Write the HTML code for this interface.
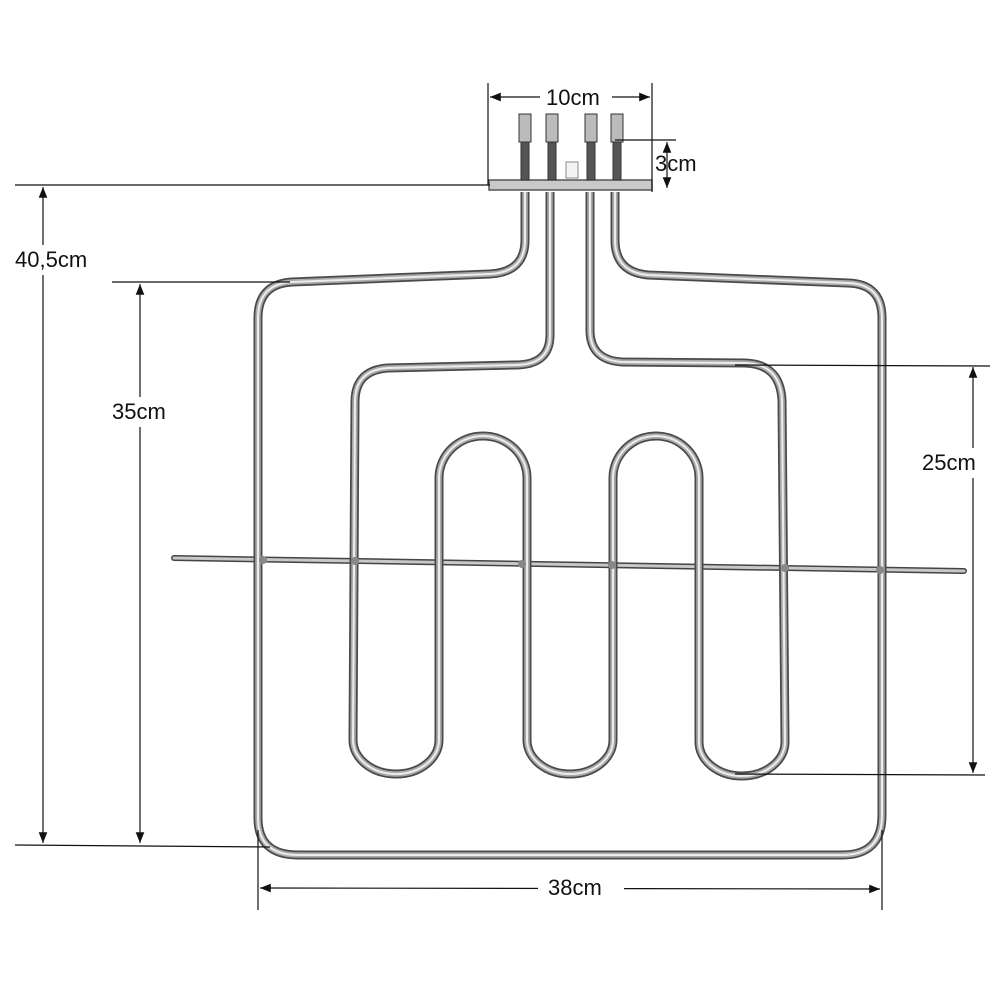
<!DOCTYPE html>
<html><head><meta charset="utf-8"><style>
html,body{margin:0;padding:0;background:#fff}
svg{display:block}
text{font-family:"Liberation Sans",sans-serif;font-size:22px;fill:#111}
</style></head><body>
<svg width="1000" height="1000" viewBox="0 0 1000 1000" xmlns="http://www.w3.org/2000/svg">
<defs>
<marker id="a" viewBox="0 0 10 10" refX="10" refY="5" markerWidth="9" markerHeight="9" orient="auto-start-reverse"><path d="M0,1 L10,5 L0,9 z" fill="#111"/></marker>
</defs>
<rect width="1000" height="1000" fill="#fff"/>
<g stroke-linecap="round" fill="none">
<path d="M174,558 L964,571" stroke="#444" stroke-width="6"/>
<path d="M174,558 L964,571" stroke="#c8c8c8" stroke-width="3"/>
</g>
<g id="tubes" fill="none" stroke-linejoin="round">
<path id="outer" d="M525,192 L525,240 Q525,272 490,274 L292,282 Q258,284 258,318 L258,818 Q258,855 298,855 L842,855 Q882,855 882,815 L882,318 Q882,284 848,283 L648,275 Q615,272 615,240 L615,192"/>
<path id="inner" d="M550,192 L550,335 Q550,365 515,365 L388,368 Q355,370 355,402 L353,740 A43,34 0 0 0 439,740 L439,478 A44,42 0 0 1 527,478 L527,740 A43,34 0 0 0 613,740 L613,478 A43,42 0 0 1 699,478 L699,742 A43,34 0 0 0 785,742 L782,400 Q780,364 745,363 L622,362 Q590,360 590,330 L590,192"/>
</g>
<use href="#outer" stroke="#4a4a4a" stroke-width="9" fill="none"/>
<use href="#outer" stroke="#a9a9a9" stroke-width="5.5" fill="none"/>
<use href="#outer" stroke="#ececec" stroke-width="2" fill="none"/>
<use href="#inner" stroke="#4a4a4a" stroke-width="9" fill="none"/>
<use href="#inner" stroke="#a9a9a9" stroke-width="5.5" fill="none"/>
<use href="#inner" stroke="#ececec" stroke-width="2" fill="none"/>
<g fill="#888"><circle cx="263" cy="560" r="4"/><circle cx="355" cy="561" r="4"/><circle cx="522" cy="564" r="4"/><circle cx="612" cy="565" r="4"/><circle cx="785" cy="568" r="4"/><circle cx="880" cy="570" r="4"/></g>
<rect x="489" y="180" width="163" height="10" fill="#c9c9c9" stroke="#555" stroke-width="1.5"/>
<rect x="566" y="162" width="12" height="16" fill="#f4f4f4" stroke="#888"/>
<g stroke="#333" stroke-width="1">
<g transform="translate(525,0)"><rect x="-4" y="140" width="8" height="40" fill="#555"/><rect x="-6" y="114" width="12" height="28" fill="#bbb"/></g>
<g transform="translate(552,0)"><rect x="-4" y="140" width="8" height="40" fill="#555"/><rect x="-6" y="114" width="12" height="28" fill="#bbb"/></g>
<g transform="translate(591,0)"><rect x="-4" y="140" width="8" height="40" fill="#555"/><rect x="-6" y="114" width="12" height="28" fill="#bbb"/></g>
<g transform="translate(617,0)"><rect x="-4" y="140" width="8" height="40" fill="#555"/><rect x="-6" y="114" width="12" height="28" fill="#bbb"/></g>
</g>
<g stroke="#111" stroke-width="1.2" fill="none">
<line x1="488" y1="83" x2="488" y2="185"/>
<line x1="652" y1="83" x2="652" y2="192"/>
<line x1="490" y1="97" x2="540" y2="97" marker-start="url(#a)"/>
<line x1="612" y1="97" x2="650" y2="97" marker-end="url(#a)"/>
<line x1="615" y1="140" x2="676" y2="140"/>
<line x1="667" y1="142" x2="667" y2="188" marker-start="url(#a)" marker-end="url(#a)"/>
<line x1="15" y1="185" x2="490" y2="185"/>
<line x1="15" y1="845" x2="270" y2="847"/>
<line x1="43" y1="187" x2="43" y2="843" marker-start="url(#a)" marker-end="url(#a)"/>
<line x1="112" y1="282" x2="290" y2="282"/>
<line x1="140" y1="284" x2="140" y2="843" marker-start="url(#a)" marker-end="url(#a)"/>
<line x1="735" y1="365" x2="990" y2="366"/>
<line x1="735" y1="774" x2="985" y2="775"/>
<line x1="973" y1="367" x2="973" y2="773" marker-start="url(#a)" marker-end="url(#a)"/>
<line x1="258" y1="830" x2="258" y2="910"/>
<line x1="882" y1="830" x2="882" y2="910"/>
<line x1="260" y1="888" x2="880" y2="889" marker-start="url(#a)" marker-end="url(#a)"/>
</g>
<rect x="12" y="245" width="94" height="30" fill="#fff"/>
<rect x="108" y="397" width="74" height="30" fill="#fff"/>
<rect x="918" y="448" width="72" height="30" fill="#fff"/>
<rect x="538" y="873" width="86" height="30" fill="#fff"/>
<text x="546" y="105">10cm</text>
<text x="655" y="171">3cm</text>
<text x="15" y="267">40,5cm</text>
<text x="112" y="419">35cm</text>
<text x="922" y="470">25cm</text>
<text x="548" y="895">38cm</text>
</svg>
</body></html>
